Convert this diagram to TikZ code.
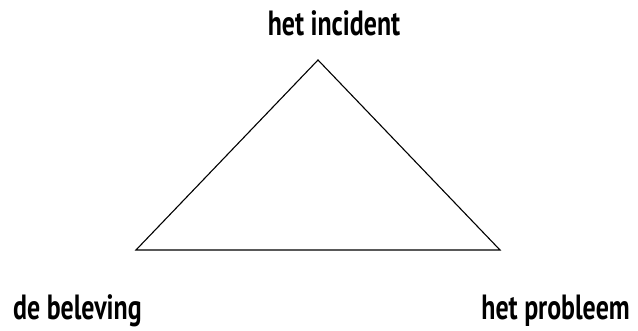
\documentclass[tikz,border=0pt]{standalone}
\usepackage{fontspec}
\setmainfont[FakeStretch=0.74]{PT Sans}
\tikzset{
  corner/.style={font=\fontsize{35}{40}\selectfont\bfseries, inner sep=0pt},
  edge/.style={black, line width=1.1pt, line join=miter}
}
\begin{document}
\begin{tikzpicture}[x=1pt, y=-1pt]
    \useasboundingbox (0,0) rectangle (638,331);
    % Corners of the triangle
    \coordinate (top) at (318,60);
    \coordinate (left) at (136,250);
    \coordinate (right) at (500,250);
    \draw[edge] (top)--(left)--(right)--cycle;
    % Labels
    \node[corner, anchor=base] (incident) at (334,36) {het incident};
    \node[corner, anchor=base west] (beleving) at (13,320) {de beleving};
    \node[corner, anchor=base east] (probleem) at (630,320) {het probleem};
\end{tikzpicture}
\end{document}
